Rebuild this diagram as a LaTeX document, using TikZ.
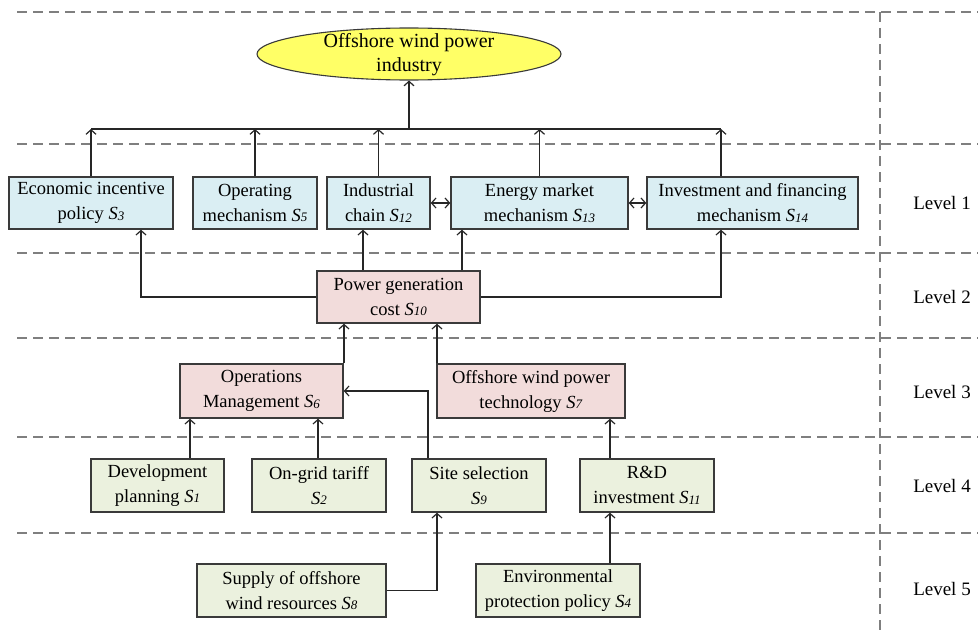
\documentclass[tikz,border=0pt]{standalone}
\usepackage{fontspec}
\setmainfont{Liberation Serif}
\usetikzlibrary{arrows.meta,shapes.geometric}
\definecolor{cblue}{HTML}{DAEEF3}
\definecolor{cpink}{HTML}{F2DCDB}
\definecolor{cgreen}{HTML}{EBF1DE}
\definecolor{cyel}{HTML}{FFFF66}
\definecolor{boxline}{HTML}{3A3A3A}
\definecolor{dashgray}{HTML}{7F7F7F}
\newcommand\Sn[1]{\textit{S}\raisebox{-0.5pt}{\fontsize{13}{13}\selectfont\textit{#1}}}
\begin{document}
\begin{tikzpicture}[x=1pt,y=-1pt,
  bx/.style={draw=boxline, line width=1.4pt, inner sep=0pt, align=center, font=\fontsize{18.5}{25}\selectfont},
  lvone/.style={bx, fill=cblue},
  lvtwo/.style={bx, fill=cpink},
  lvfour/.style={bx, fill=cgreen},
  tip/.style={},
  arr/.style={-{Straight Barb[length=4.5pt,width=10pt]}, line width=1.2pt, draw=black!85},
  dblarr/.style={{Straight Barb[length=4.5pt,width=10pt]}-{Straight Barb[length=4.5pt,width=10pt]}, line width=1.2pt, draw=black!85},
  ln/.style={line width=1.2pt, draw=black!85},
  gridline/.style={dash pattern=on 10pt off 6pt, line width=2pt, draw=dashgray},
  lvl/.style={font=\fontsize{19}{19}\selectfont}]
\useasboundingbox (0,0) rectangle (978,634);
% grid
\foreach \yy in {12,144,253,338,437,533} \draw[gridline] (17,\yy) -- (978,\yy);
\draw[gridline] (880,12) -- (880,634);
% level labels
\node[lvl] (L1) at (942,203) {Level 1};
\node[lvl] (L2) at (942,297) {Level 2};
\node[lvl] (L3) at (942,392) {Level 3};
\node[lvl] (L4) at (942,486) {Level 4};
\node[lvl] (L5) at (942,589) {Level 5};
% top ellipse
\node[ellipse, draw=boxline, line width=1.1pt, fill=cyel, minimum width=304, minimum height=52, inner sep=0pt] (ind) at (409,54) {};
\node[align=center, font=\fontsize{20}{24}\selectfont, inner sep=0pt] (indtxt) at (409,55) {Offshore wind power\\industry};
% level 1
\node[lvone, minimum width=164, minimum height=52] (S3) at (91,203) {Economic incentive\\policy \Sn{3}};
\node[lvone, minimum width=124, minimum height=52] (S5) at (255,203) {Operating\\mechanism \Sn{5}};
\node[lvone, minimum width=103, minimum height=52] (S12) at (378.5,203) {Industrial\\chain \Sn{12}};
\node[lvone, minimum width=177, minimum height=52] (S13) at (539.5,203) {Energy market\\mechanism \Sn{13}};
\node[lvone, minimum width=211, minimum height=52] (S14) at (752.5,203) {Investment and financing\\mechanism \Sn{14}};
% level 2
\node[lvtwo, minimum width=163, minimum height=52] (S10) at (398.5,297) {Power generation\\cost \Sn{10}};
% level 3
\node[lvtwo, minimum width=163, minimum height=54] (S6) at (261.5,391) {Operations\\Management \Sn{6}};
\node[lvtwo, minimum width=188, minimum height=54] (S7) at (531,391) {Offshore wind power\\technology \Sn{7}};
% level 4
\node[lvfour, minimum width=133, minimum height=53] (S1) at (157.5,485.5) {Development\\planning \Sn{1}};
\node[lvfour, minimum width=134, minimum height=53] (S2) at (319,485.5) {On-grid tariff\\\Sn{2}};
\node[lvfour, minimum width=134, minimum height=53] (S9) at (479,485.5) {Site selection\\\Sn{9}};
\node[lvfour, minimum width=134, minimum height=53] (S11) at (647,485.5) {R\&D\\investment \Sn{11}};
% level 5
\node[lvfour, minimum width=189, minimum height=53] (S8) at (291.5,590.5) {Supply of offshore\\wind resources \Sn{8}};
\node[lvfour, minimum width=164, minimum height=53] (S4) at (558,590.5) {Environmental\\protection policy \Sn{4}};
% routing coordinates
\coordinate (bus) at (409,129);
\coordinate (busL) at (91,129);
\coordinate (busR) at (721,129);
\coordinate (x14) at (721,0);
\coordinate (x3) at (141,0);
\coordinate (x363) at (363,0);
\coordinate (x462) at (462,0);
\coordinate (x344) at (344,0);
\coordinate (x437) at (437,0);
\coordinate (x428) at (428,0);
\coordinate (x190) at (190,0);
\coordinate (x318) at (318,0);
\coordinate (x610) at (610,0);
% level 1 to top
\draw[ln] (busL) -- (busR);
\draw[arr] (bus) -- (ind.south);
\draw[arr] (S3.north) -- (S3.north |- bus);
\draw[arr] (S5.north) -- (S5.north |- bus);
\draw[arr] (S12.north) -- (S12.north |- bus);
\draw[arr] (S13.north) -- (S13.north |- bus);
\draw[arr] (x14 |- S14.north) -- (x14 |- bus);
% level 1 mutual
\draw[dblarr] (S12.east) -- (S13.west);
\draw[dblarr] (S13.east) -- (S14.west);
% level 2 to level 1
\draw[arr] (S10.west) -| (x3 |- S3.south);
\draw[arr] (S10.east) -| (x14 |- S14.south);
\draw[arr] (x363 |- S10.north) -- (x363 |- S12.south);
\draw[arr] (x462 |- S10.north) -- (x462 |- S13.south);
% level 3 to level 2
\draw[arr] (x344 |- S6.north) -- (x344 |- S10.south);
\draw[arr] (x437 |- S7.north) -- (x437 |- S10.south);
% level 4 to level 3
\draw[arr] (x190 |- S1.north) -- (x190 |- S6.south);
\draw[arr] (x318 |- S2.north) -- (x318 |- S6.south);
\draw[arr] (x428 |- S9.north) |- (S6.east);
\draw[arr] (x610 |- S11.north) -- (x610 |- S7.south);
% level 5 to level 4
\draw[arr] (S8.east) -| (x437 |- S9.south);
\draw[arr] (x610 |- S4.north) -- (x610 |- S11.south);
\end{tikzpicture}
\end{document}
